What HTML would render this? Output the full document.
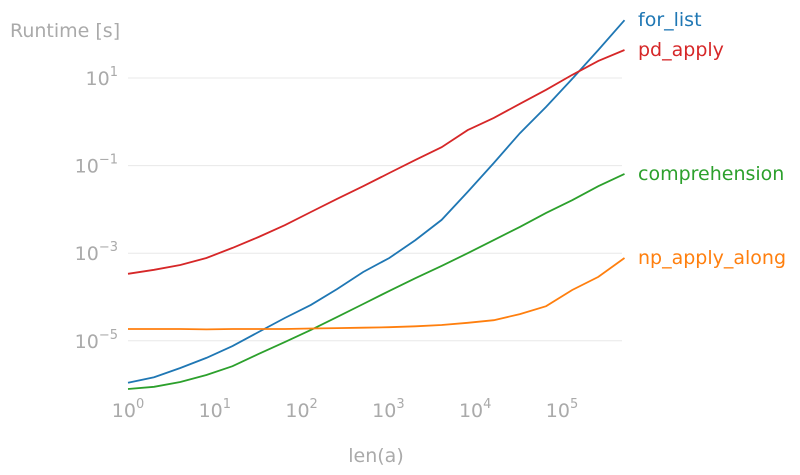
<!DOCTYPE html>
<html><head><meta charset="utf-8"><style>
html,body{margin:0;padding:0;background:#fff;}
svg{display:block;font-family:"DejaVu Sans","Liberation Sans",sans-serif;}
</style></head><body>
<svg id="chart" width="800" height="475">
<g id="grid"></g>
<g id="yticks"></g>
<g id="xticks"></g>
<g id="series"></g>
<g id="labels"></g>
<text x="10" y="37" font-size="19" fill="#aaa">Runtime [s]</text>
<text x="376" y="462" font-size="19" fill="#aaa" text-anchor="middle">len(a)</text>
</svg>
<script>
const exponents = [0,1,2,3,4,5,6,7,8,9,10,11,12,13,14,15,16,17,18,19];
const forList = [-5.96,-5.83,-5.62,-5.39,-5.12,-4.80,-4.48,-4.18,-3.82,-3.43,-3.11,-2.70,-2.24,-1.60,-0.94,-0.26,0.34,0.98,1.64,2.32];
const pdApply = [-3.47,-3.38,-3.27,-3.11,-2.88,-2.63,-2.36,-2.06,-1.76,-1.47,-1.17,-0.87,-0.58,-0.19,0.09,0.41,0.73,1.07,1.39,1.64];
const comprehension = [-6.10,-6.05,-5.94,-5.78,-5.58,-5.30,-5.03,-4.75,-4.46,-4.16,-3.86,-3.57,-3.29,-3.00,-2.70,-2.40,-2.08,-1.79,-1.47,-1.19];
const npApplyAlong = [-4.73,-4.73,-4.73,-4.74,-4.73,-4.73,-4.73,-4.72,-4.71,-4.70,-4.69,-4.67,-4.64,-4.59,-4.53,-4.39,-4.21,-3.84,-3.54,-3.11];
const seriesNames = ["for_list","pd_apply","comprehension","np_apply_along"];
const seriesColors = ["#1f77b4","#d62728","#2ca02c","#ff7f0e"];
const xTickExps = [0,1,2,3,4,5];
const yTickExps = [1,-1,-3,-5];

const NS="http://www.w3.org/2000/svg";
function xScale(n){return 128 + Math.log10(n)*86.8;}
function yScale(lv){return 78 + (1-lv)*43.8;}
function mk(tag,attrs,parent){const e=document.createElementNS(NS,tag);for(const k in attrs)e.setAttribute(k,attrs[k]);parent.appendChild(e);return e;}
const grid=document.getElementById('grid'),yt=document.getElementById('yticks'),xt=document.getElementById('xticks'),sg=document.getElementById('series'),lg=document.getElementById('labels');
yTickExps.forEach(e=>{
  const y=yScale(e);
  const l=mk('line',{x1:128,x2:622,y1:y,y2:y,stroke:'#e8e8e8','stroke-width':1},grid);
  
  
  const t=mk('text',{x:118,y:y+7,'font-size':19,fill:'#aaa','text-anchor':'end'},yt);
  
  
  t.innerHTML='10<tspan dy="-9" font-size="13">'+(e<0?'\u2212'+(-e):e)+'</tspan>';
});
xTickExps.forEach(e=>{
  const x=xScale(Math.pow(10,e));
  const t=mk('text',{x:x,y:417,'font-size':19,fill:'#aaa','text-anchor':'middle'},xt);
  
  
  t.innerHTML='10<tspan dy="-9" font-size="13">'+e+'</tspan>';
});
const allSeries=[forList,pdApply,comprehension,npApplyAlong];
allSeries.forEach((vals,i)=>{
  const pts=vals.map((v,j)=>xScale(Math.pow(2,exponents[j])).toFixed(1)+','+yScale(v).toFixed(1)).join(' ');
  const p=mk('polyline',{points:pts,fill:'none',stroke:seriesColors[i],'stroke-width':1.8},sg);
  
  
  const last=vals[vals.length-1];
  const t=mk('text',{x:638,y:yScale(last)+6,'font-size':19,fill:seriesColors[i]},lg);
  
  
  t.textContent=seriesNames[i];
});
</script>
</body></html>
